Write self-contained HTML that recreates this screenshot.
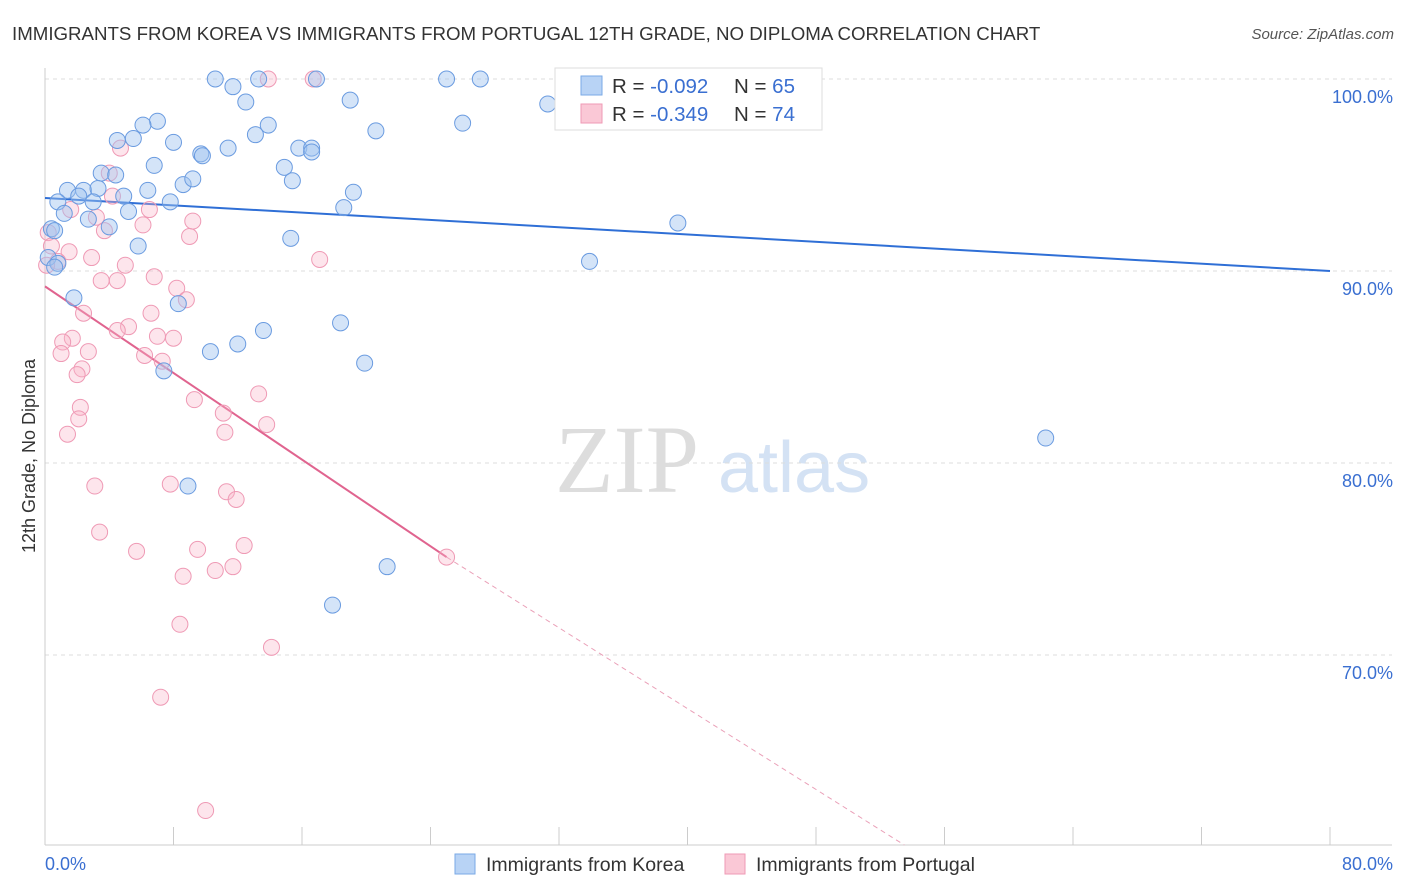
<!DOCTYPE html>
<html><head><meta charset="utf-8"><style>
body{margin:0;background:#fff;font-family:"Liberation Sans",sans-serif;}
svg{display:block}
</style></head><body>
<svg id="chart" width="1406" height="892">
<text x="12" y="40" font-size="18.7" fill="#333">IMMIGRANTS FROM KOREA VS IMMIGRANTS FROM PORTUGAL 12TH GRADE, NO DIPLOMA CORRELATION CHART</text>
<text x="1394" y="39" font-size="15" fill="#555" font-style="italic" text-anchor="end">Source: ZipAtlas.com</text>
<text x="555" y="492" font-size="96" fill="#ddd" font-family="Liberation Serif">ZIP</text>
<text x="718" y="492" font-size="72" fill="#d4e2f4">atlas</text>
<text transform="translate(35,456) rotate(-90)" font-size="18" fill="#333" text-anchor="middle">12th Grade, No Diploma</text>
<g id="grid"></g><g id="axes"></g><g id="trends"></g><g id="pts"></g>
<g>
<rect x="555" y="68" width="267" height="62" fill="#fff" stroke="#ddd"/>
<rect x="581" y="76" width="21" height="19" fill="#b8d3f5" stroke="#7aa9e6"/>
<rect x="581" y="104" width="21" height="19" fill="#fac8d6" stroke="#ef9ab5"/>
<text x="612" y="93" font-size="20.5" fill="#333">R = <tspan fill="#3a6fd1">-0.092</tspan></text>
<text x="734" y="93" font-size="20.5" fill="#333">N = <tspan fill="#3a6fd1">65</tspan></text>
<text x="612" y="121" font-size="20.5" fill="#333">R = <tspan fill="#3a6fd1">-0.349</tspan></text>
<text x="734" y="121" font-size="20.5" fill="#333">N = <tspan fill="#3a6fd1">74</tspan></text>
</g>
<g>
<rect x="455" y="854" width="20" height="20" fill="#b8d3f5" stroke="#7aa9e6"/>
<text x="486" y="871" font-size="19.5" fill="#333">Immigrants from Korea</text>
<rect x="725" y="854" width="20" height="20" fill="#fac8d6" stroke="#ef9ab5"/>
<text x="756" y="871" font-size="19.5" fill="#333">Immigrants from Portugal</text>
</g>
</svg>
<script>
const xTicks=[0,8,16,24,32,40,48,56,64,72,80];
const yTicks=[100,90,80,70];
const koreaX=[10.6,11.7,13.3,16.9,25.0,27.1,12.5,19.0,31.3,7.0,6.1,13.9,20.6,26.0,4.5,5.5,8.0,13.1,11.4,9.7,9.8,15.8,16.6,16.6,6.8,14.9,3.5,4.4,8.6,9.2,15.4,19.2,1.4,2.4,3.3,6.4,4.9,0.8,2.1,3.0,7.8,18.6,1.2,2.7,5.2,4.0,39.4,0.4,0.6,15.3,5.8,0.2,0.8,0.6,33.9,1.8,8.3,13.6,18.4,12.0,10.3,19.9,7.4,62.3,8.9,21.3,17.9];
const koreaY=[100,99.6,100,100,100,100,98.8,98.9,98.7,97.8,97.6,97.6,97.3,97.7,96.8,96.9,96.7,97.1,96.4,96.1,96.0,96.4,96.4,96.2,95.5,95.4,95.1,95.0,94.5,94.8,94.7,94.1,94.2,94.2,94.3,94.2,93.9,93.6,93.9,93.6,93.6,93.3,93.0,92.7,93.1,92.3,92.5,92.2,92.1,91.7,91.3,90.7,90.4,90.2,90.5,88.6,88.3,86.9,87.3,86.2,85.8,85.2,84.8,81.3,78.8,74.6,72.6];
const portX=[13.9,16.7,4.7,4.0,4.2,6.5,3.2,6.1,1.6,3.7,9.0,9.2,0.2,0.4,1.5,2.9,0.8,0.1,5.0,6.8,4.5,3.5,8.2,8.8,17.1,2.4,6.6,5.2,4.5,1.7,1.1,7.0,8.0,2.7,1.0,6.2,7.3,2.3,2.0,9.3,13.3,2.2,2.1,11.1,11.2,13.8,1.4,3.1,7.8,11.3,11.9,3.4,5.7,9.5,12.4,10.6,11.7,8.6,25.0,8.4,14.1,7.2,10.0];
const portY=[100,100,96.4,95.1,93.9,93.2,92.8,92.4,93.2,92.1,91.8,92.6,92.0,91.3,91.0,90.7,90.5,90.3,90.3,89.7,89.5,89.5,89.1,88.5,90.6,87.8,87.8,87.1,86.9,86.5,86.3,86.6,86.5,85.8,85.7,85.6,85.3,84.9,84.6,83.3,83.6,82.9,82.3,82.6,81.6,82.0,81.5,78.8,78.9,78.5,78.1,76.4,75.4,75.5,75.7,74.4,74.6,74.1,75.1,71.6,70.4,67.8,61.9];
const koreaTrend=[93.8,90.0];
const portTrend=[89.2,-0.564];
const NS="http://www.w3.org/2000/svg";
const sx=v=>45+v*1285/80, sy=v=>79+(100-v)*19.2;
function mk(tag,attrs,parent){const e=document.createElementNS(NS,tag);for(const k in attrs)e.setAttribute(k,attrs[k]);document.getElementById(parent).appendChild(e);return e;}
yTicks.forEach(t=>{
 const l=mk('line',{x1:45,x2:1392,y1:sy(t),y2:sy(t),stroke:'#ddd','stroke-dasharray':'4 4'},'grid');
 
 
 const tx=mk('text',{x:1393,y:sy(t)+24,'font-size':18,fill:'#3a6fd1','text-anchor':'end'},'grid');
 tx.textContent=t.toFixed(1)+'%';
 
 
});
const ax=mk('line',{x1:45,x2:45,y1:68,y2:845,stroke:'#ccc'},'axes');


const bx=mk('line',{x1:45,x2:1392,y1:845,y2:845,stroke:'#ccc'},'axes');


xTicks.forEach(t=>{
 const l=mk('line',{x1:sx(t),x2:sx(t),y1:827,y2:845,stroke:'#ccc'},'axes');
 
 
});
[[0,'start',45],[80,'end',1393]].forEach(([v,a,x])=>{
 const tx=mk('text',{x:x,y:870,'font-size':18,fill:'#3a6fd1','text-anchor':a},'axes');
 tx.textContent=v.toFixed(1)+'%';
 
 
});
const bt=mk('line',{x1:sx(0),y1:sy(koreaTrend[0]),x2:sx(80),y2:sy(koreaTrend[1]),stroke:'#2f6fd6','stroke-width':2},'trends');


const xe=25, xd=53.5;
const pt=mk('line',{x1:sx(0),y1:sy(portTrend[0]),x2:sx(xe),y2:sy(portTrend[0]+portTrend[1]*xe),stroke:'#e0648f','stroke-width':2},'trends');


const pd=mk('line',{x1:sx(xe),y1:sy(portTrend[0]+portTrend[1]*xe),x2:sx(xd),y2:845,stroke:'#eaa0b8','stroke-width':1,'stroke-dasharray':'5 4'},'trends');


portX.forEach((x,i)=>{
 const c=mk('circle',{cx:sx(x),cy:sy(portY[i]),r:8,fill:'rgba(248,180,200,0.35)',stroke:'#ef9ab5','stroke-width':1},'pts');
 
 
});
koreaX.forEach((x,i)=>{
 const c=mk('circle',{cx:sx(x),cy:sy(koreaY[i]),r:8,fill:'rgba(160,195,240,0.45)',stroke:'#6a9be0','stroke-width':1},'pts');
 
 
});
</script>
</body></html>
